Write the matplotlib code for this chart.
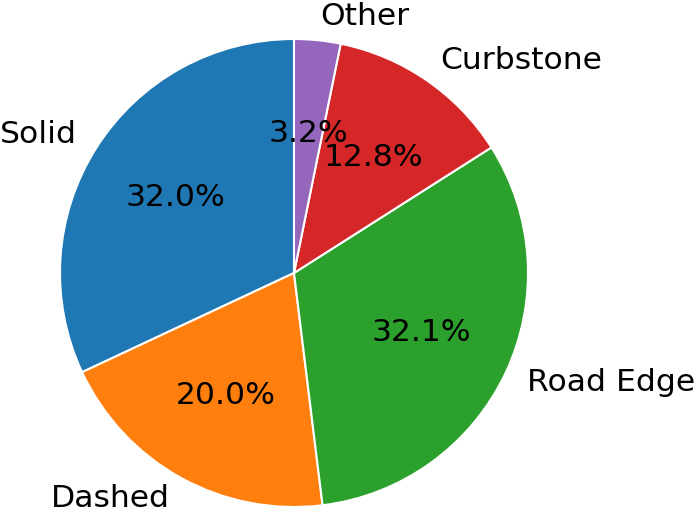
import matplotlib
matplotlib.use('Agg')
import matplotlib.pyplot as plt

labels = ['Solid', 'Dashed', 'Road Edge', 'Curbstone', 'Other']
shares = [32.0, 20.0, 32.1, 12.8, 3.2]
colors = ['#1f77b4', '#ff7f0e', '#2ca02c', '#d62728', '#9467bd']

fig = plt.figure(figsize=(6.98, 5.11), dpi=100)
# pie radius ~234 px, centre at (294, 273) px from top-left
r_px = 234
cx, cy = 294, 511 - 273
half = 1.25 * r_px
ax = fig.add_axes([(cx - half) / 698, (cy - half) / 511, 2 * half / 698, 2 * half / 511])
ax.pie(shares, labels=labels, colors=colors, autopct='%1.1f%%', startangle=90,
       wedgeprops={'edgecolor': 'white', 'linewidth': 1.5},
       textprops={'fontsize': 22.6})
ax.set_xlim(-1.25, 1.25)
ax.set_ylim(-1.25, 1.25)
ax.set_aspect('auto')
ax.axis('off')

fig.savefig('out.png', dpi=100)
